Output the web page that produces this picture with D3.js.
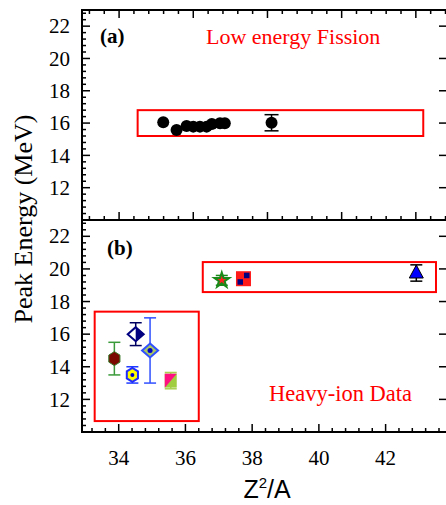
<!DOCTYPE html>
<html><head><meta charset="utf-8">
<script src="https://cdn.jsdelivr.net/npm/d3@7"></script>
<style>html,body{margin:0;padding:0;background:#fff;}</style>
</head><body>
<svg id="chart" width="446" height="505"></svg>
<script>
// ---------- data ----------
const fissionX = [35.19, 35.55, 35.82, 36.00, 36.18, 36.36, 36.50, 36.72, 36.85];
const fissionY = [16.05, 15.57, 15.82, 15.78, 15.78, 15.78, 15.94, 15.99, 15.99];
const fissionExtraX = [38.11];
const fissionExtraY = [16.02];
const fissionExtraErr = [0.5];

const heavyNames = ["hexMaroon", "hexYellow", "diamondHalf", "diamondGreen", "squarePink", "star", "squareRed", "triangle"];
const heavyX = [33.87, 34.41, 34.51, 34.94, 35.56, 37.09, 37.74, 42.92];
const heavyY = [14.5, 13.5, 16.0, 15.0, 13.15, 19.3, 19.4, 19.75];
const heavyErr = [1.0, 0.5, 0.7, 2.0, 0.5, 0.3, 0, 0.5];

const yTicks = [12, 14, 16, 18, 20, 22];
const xTicks = [34, 36, 38, 40, 42];

// annotation boxes [x0,x1,y0,y1] in data units
const boxA = [34.5, 42.2, 15.2, 16.8];
const boxB1 = [36.52, 43.51, 18.58, 20.42];
const boxB2 = [33.28, 36.4, 10.67, 17.38];

// ---------- layout ----------
const svg = d3.select("#chart");
const L = 82, R = 447;
const xA = d3.scaleLinear().domain([33.0, 42.84]).range([L, R]);
const xB = d3.scaleLinear().domain([32.9, 43.84]).range([L, R]);
const yA = d3.scaleLinear().domain([10, 23]).range([220, 10]);
const yB = d3.scaleLinear().domain([10, 23]).range([432, 220]);

const serif = "Liberation Serif, Times New Roman, serif";

function minorTicks(scale) {
  const [d0, d1] = scale.domain();
  const out = [];
  for (let v = Math.ceil(d0 / 0.4) * 0.4; v <= d1 + 1e-9; v += 0.4) {
    out.push(Math.round(v * 10) / 10);
  }
  return out;
}
function isMajor(v) { return Math.abs(v / 2 - Math.round(v / 2)) < 1e-6; }

function drawPanel(g, x, y, opts) {
  const top = y.range()[1], bot = y.range()[0];
  g.append("rect").attr("x", L).attr("y", top).attr("width", R - L).attr("height", bot - top)
    .attr("fill", "none").attr("stroke", "#000").attr("stroke-width", 2);
  minorTicks(x).forEach(v => {
    const len = isMajor(v) ? 8 : 4;
    g.append("line").attr("x1", x(v)).attr("x2", x(v)).attr("y1", bot).attr("y2", bot - len)
      .attr("stroke", "#000").attr("stroke-width", 1.5);
    if (opts.topTicks) {
      g.append("line").attr("x1", x(v)).attr("x2", x(v)).attr("y1", top).attr("y2", top + len)
        .attr("stroke", "#000").attr("stroke-width", 1.5);
    }
  });
  minorTicks(y).forEach(v => {
    const len = isMajor(v) ? 8 : 4;
    g.append("line").attr("x1", L).attr("x2", L + len).attr("y1", y(v)).attr("y2", y(v))
      .attr("stroke", "#000").attr("stroke-width", 1.5);
  });
  y.ticks(7).filter(isMajor).forEach(v => {
    g.append("line").attr("x1", R).attr("x2", R - 8).attr("y1", y(v)).attr("y2", y(v))
      .attr("stroke", "#000").attr("stroke-width", 1.5);
  });
  yTicks.forEach(v => {
    g.append("text").attr("x", 70).attr("y", y(v)).attr("dy", "0.34em")
      .attr("text-anchor", "end").attr("font-family", serif).attr("font-size", 21)
      .text(v);
  });
}

const gA = svg.append("g");
const gB = svg.append("g");
drawPanel(gA, xA, yA, {topTicks: true});
drawPanel(gB, xB, yB, {topTicks: false});

xTicks.forEach(v => {
  svg.append("text").attr("x", xB(v)).attr("y", 465).attr("text-anchor", "middle")
    .attr("font-family", serif).attr("font-size", 21).text(v);
});

function box(g, x, y, b) {
  g.append("rect").attr("x", x(b[0])).attr("y", y(b[3]))
    .attr("width", x(b[1]) - x(b[0])).attr("height", y(b[2]) - y(b[3]))
    .attr("fill", "none").attr("stroke", "#ff0000").attr("stroke-width", 2);
}
box(gA, xA, yA, boxA);
box(gB, xB, yB, boxB1);
box(gB, xB, yB, boxB2);

svg.append("text").attr("x", 100).attr("y", 43).attr("font-family", serif).attr("font-weight", "bold")
  .attr("font-size", 21).text("(a)");
svg.append("text").attr("x", 107).attr("y", 255).attr("font-family", serif).attr("font-weight", "bold")
  .attr("font-size", 21).text("(b)");
svg.append("text").attr("x", 206).attr("y", 44).attr("font-family", serif).attr("font-size", 22)
  .attr("fill", "#ff0000").text("Low energy Fission");
svg.append("text").attr("x", 269).attr("y", 401).attr("font-family", serif).attr("font-size", 22.5)
  .attr("fill", "#ff0000").text("Heavy-ion Data");

svg.append("text").attr("transform", "translate(32,219) rotate(-90)").attr("text-anchor", "middle")
  .attr("font-family", serif).attr("font-size", 26).text("Peak Energy (MeV)");
const xt = svg.append("text").attr("x", 267).attr("y", 498).attr("text-anchor", "middle")
  .attr("font-family", "Liberation Sans, Arial, sans-serif").attr("font-size", 25);
xt.append("tspan").text("Z");
xt.append("tspan").attr("font-size", 15).attr("dy", -10).text("2");
xt.append("tspan").attr("dy", 10).text("/A");

function errBar(g, cx, y, val, err, color, cap) {
  if (!err) return;
  const y1 = y(val + err), y2 = y(val - err);
  g.append("line").attr("x1", cx).attr("x2", cx).attr("y1", y1).attr("y2", y2).attr("stroke", color).attr("stroke-width", 1.5);
  [y1, y2].forEach(yy => g.append("line").attr("x1", cx - cap).attr("x2", cx + cap).attr("y1", yy).attr("y2", yy)
    .attr("stroke", color).attr("stroke-width", 1.5));
}

fissionX.forEach((v, i) => {
  gA.append("circle").attr("cx", xA(v)).attr("cy", yA(fissionY[i])).attr("r", 6).attr("fill", "#000");
});
fissionExtraX.forEach((v, i) => {
  errBar(gA, xA(v), yA, fissionExtraY[i], fissionExtraErr[i], "#000", 7);
  gA.append("circle").attr("cx", xA(v)).attr("cy", yA(fissionExtraY[i])).attr("r", 6).attr("fill", "#000");
});

const errColors = {hexMaroon: "#3a9a3a", hexYellow: "#1f3bff", diamondHalf: "#000060", diamondGreen: "#3050ff",
  squarePink: "#a8d050", star: "#1a8a1a", squareRed: "#000", triangle: "#000"};

function hexPath(r) {
  const pts = d3.range(6).map(k => {
    const a = Math.PI / 6 + k * Math.PI / 3;
    return [r * Math.cos(a) * 0.92, r * Math.sin(a)];
  });
  return d3.line()(pts) + "Z";
}

heavyNames.forEach((name, i) => {
  const cx = xB(heavyX[i]), cy = yB(heavyY[i]);
  errBar(gB, cx, yB, heavyY[i], heavyErr[i], errColors[name], 6);
  const m = gB.append("g").attr("transform", `translate(${cx},${cy})`);
  if (name === "hexMaroon") {
    m.append("path").attr("d", hexPath(7)).attr("fill", "#7a0a00").attr("stroke", "#3a7a2a").attr("stroke-width", 1);
  } else if (name === "hexYellow") {
    m.append("path").attr("d", hexPath(7)).attr("fill", "#ffff00").attr("stroke", "#1f2bff").attr("stroke-width", 2);
    m.append("circle").attr("r", 2).attr("fill", "#0000cc");
  } else if (name === "diamondHalf") {
    m.append("path").attr("d", "M0,-7L8,0L0,7L-8,0Z").attr("fill", "#fff").attr("stroke", "#000080").attr("stroke-width", 2);
    m.append("path").attr("d", "M0,-7L8,0L0,7Z").attr("fill", "#000080");
  } else if (name === "diamondGreen") {
    m.append("path").attr("d", "M0,-7L8,0L0,7L-8,0Z").attr("fill", "#a8c860").attr("stroke", "#3050ff").attr("stroke-width", 2);
    m.append("circle").attr("r", 2.5).attr("fill", "#0000cc");
  } else if (name === "squarePink") {
    m.append("rect").attr("x", -6).attr("y", -7).attr("width", 12).attr("height", 14).attr("fill", "#a0cc40");
    m.append("path").attr("d", "M-6,-7L6,-7L-6,7Z").attr("fill", "#ff1080");
  } else if (name === "star") {
    m.append("path").attr("d", d3.symbol(d3.symbolStar, 70)()).attr("fill", "#ff2020").attr("stroke", "#1a8a1a").attr("stroke-width", 2);
  } else if (name === "squareRed") {
    m.append("rect").attr("x", -7.5).attr("y", -7.5).attr("width", 15).attr("height", 15).attr("fill", "#ff1a1a");
    m.append("rect").attr("x", -6).attr("y", 0.5).attr("width", 5.5).attr("height", 5.5).attr("fill", "#000080");
    m.append("rect").attr("x", 0.5).attr("y", -6).attr("width", 5.5).attr("height", 5.5).attr("fill", "#000080");
  } else if (name === "triangle") {
    m.append("path").attr("d", "M0,-8L7,5L-7,5Z").attr("fill", "#0000ff").attr("stroke", "#000").attr("stroke-width", 1);
  }
});
</script>
</body></html>
